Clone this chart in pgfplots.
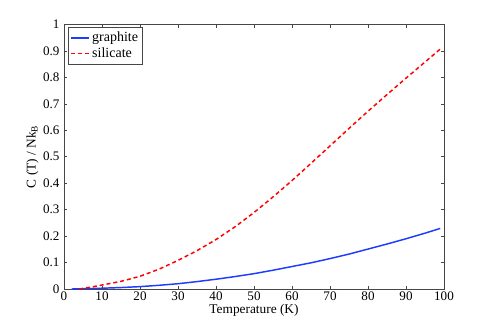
\documentclass[border=0pt]{standalone}
\usepackage{fontspec}
\setmainfont{Liberation Serif}
\usepackage{pgfplots}
\pgfplotsset{compat=1.18}
\definecolor{mblue}{RGB}{30,60,255}
\definecolor{axgray}{RGB}{70,70,70}
\begin{document}
\fontsize{9.5}{11}\selectfont
\begin{tikzpicture}[x=0.75pt,y=0.75pt]
  % page frame: pixel (0,0)-(491,326), axis origin at pixel (64,289)
  \path[fill=white,use as bounding box] (-64,-37) rectangle (427,289);
  \begin{axis}[
      at={(0,0)}, anchor=south west,
      scale only axis,
      width=285pt, height=198.4pt,
      xmin=0, xmax=100, ymin=0, ymax=1,
      xtick={0,10,20,30,40,50,60,70,80,90,100},
      ytick={0,0.1,0.2,0.3,0.4,0.5,0.6,0.7,0.8,0.9,1},
      yticklabels={0,0.1,0.2,0.3,0.4,0.5,0.6,0.7,0.8,0.9,1},
      /pgf/number format/assume math mode=true,
      tick align=inside,
      major tick length=2.5pt,
      axis line style={axgray},
      every tick/.style={axgray},
      tick label style={font=\fontsize{9.8}{11}\selectfont},
      xticklabel style={yshift=1pt},
      xlabel={Temperature (K)},
      ylabel={C (T) / Nk\textsubscript{B}},
      label style={font=\fontsize{10}{12}\selectfont},
      xlabel style={yshift=4pt},
      ylabel style={yshift=-3pt},
      legend style={at={(0.01,0.99)}, anchor=north west, draw=axgray,
        font=\fontsize{10.5}{12}\selectfont, inner sep=1.5pt,
        row sep=-1pt},
      legend image code/.code={\draw[#1] plot coordinates {(0pt,0pt) (7pt,0pt) (13.5pt,0pt)};},
      legend cell align=left,
    ]
    \addplot[mblue, line width=1.1pt] coordinates {
      (2,0) (5,0.001) (10,0.003) (15,0.0055) (20,0.009) (25,0.014)
      (30,0.020) (35,0.028) (40,0.037) (45,0.047) (50,0.058)
      (55,0.071) (60,0.085) (65,0.099) (70,0.115) (75,0.132)
      (80,0.151) (85,0.170) (90,0.190) (95,0.211) (99,0.229)
    };
    \addlegendentry{graphite}
    \addplot[red, line width=1.1pt, dash pattern=on 3pt off 2.2pt] coordinates {
      (4,0) (7,0.007) (10,0.015) (15,0.029) (20,0.048) (25,0.075)
      (30,0.108) (35,0.145) (40,0.187) (45,0.235) (50,0.289)
      (55,0.348) (60,0.410) (65,0.475) (70,0.541) (75,0.607)
      (80,0.672) (85,0.735) (90,0.797) (95,0.858) (99,0.907)
    };
    \addlegendentry{silicate}
  \end{axis}
\end{tikzpicture}
\end{document}
